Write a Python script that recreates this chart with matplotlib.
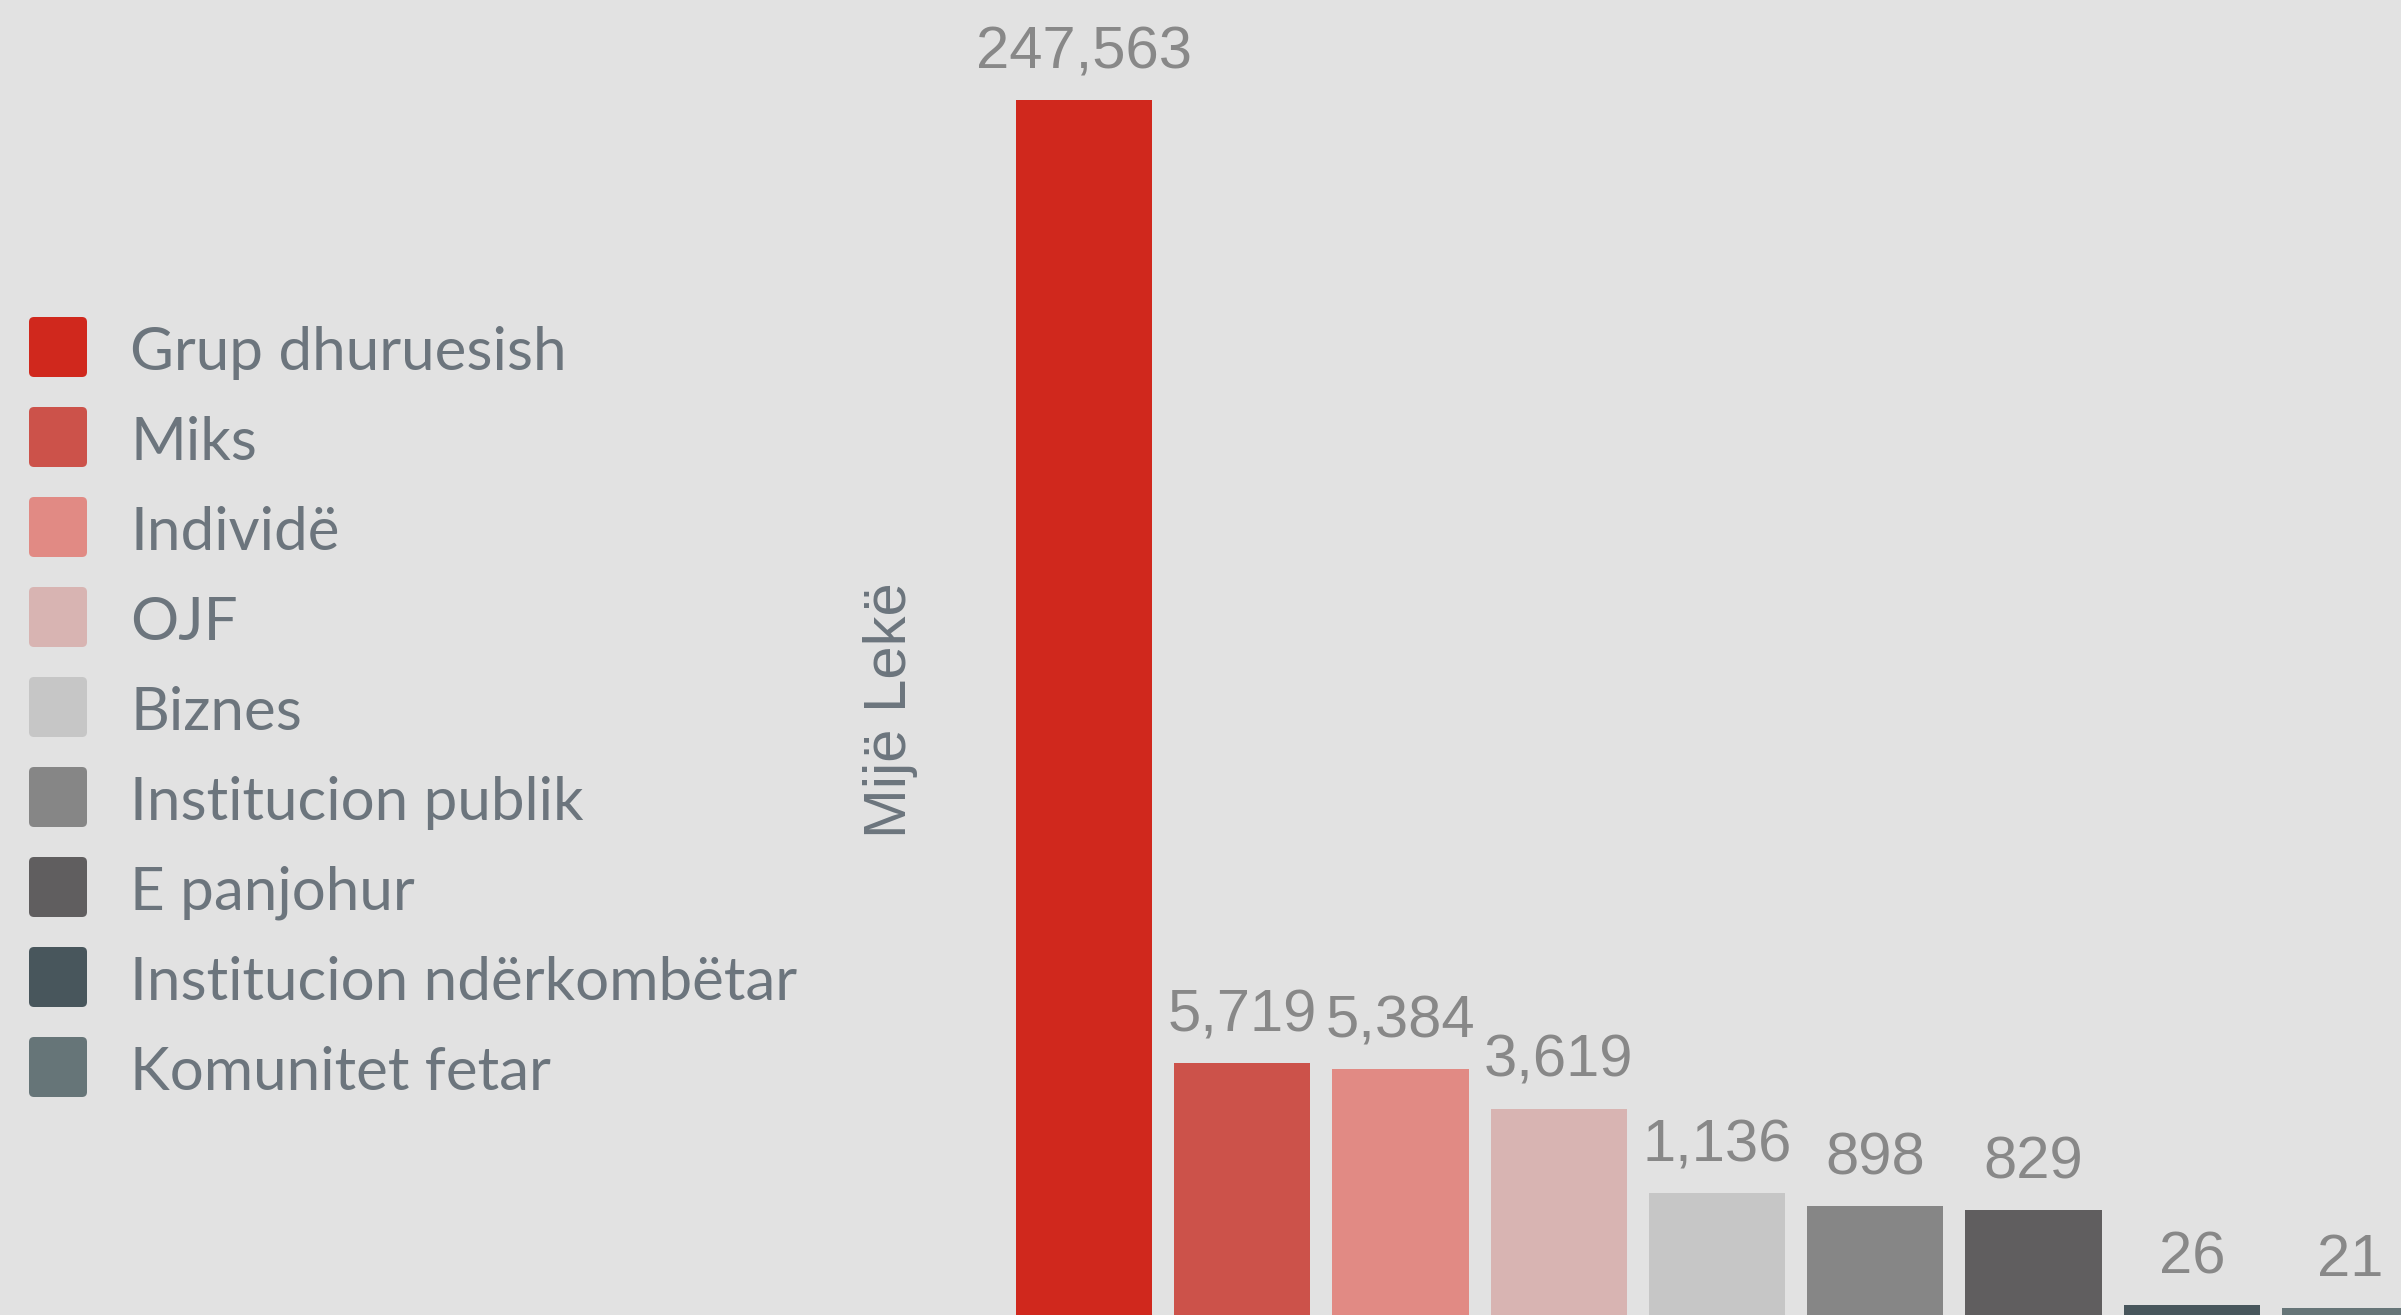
import numpy as np
import matplotlib.pyplot as plt
from matplotlib.patches import FancyBboxPatch

categories = ['Grup dhuruesish', 'Miks', 'Individë', 'OJF', 'Biznes',
              'Institucion publik', 'E panjohur', 'Institucion ndërkombëtar',
              'Komunitet fetar']
values = [247563, 5719, 5384, 3619, 1136, 898, 829, 26, 21]
colors = ['#d0281d', '#cc524a', '#e18a84', '#d8b4b2', '#c6c6c6',
          '#868686', '#605e5f', '#48565c', '#667578']
y_label = 'Mijë Lekë'

W, H = 2401, 1315
bg = '#e2e2e2'
text_col = '#6c757d'
num_col = '#888888'

fig = plt.figure(figsize=(W / 100, H / 100), dpi=100, facecolor=bg)

# compressed value axis (power scale) so the small groups stay visible
p = 0.4
fwd = lambda v: np.power(np.clip(v, 0, None), p)
inv = lambda t: np.power(np.clip(t, 0, None), 1 / p)

bottom_px = -22          # axis baseline sits just under the picture edge
top_px = 100             # top of the tallest bar, from the top edge
step = 158.25            # px between bar centres
first = 1084             # centre of the first bar
left_px = first - 0.5 * step

ax = fig.add_axes([left_px / W, bottom_px / H, (W - left_px) / W, (H - bottom_px) / H])
ax.set_yscale('function', functions=(fwd, inv))
frac = (H - top_px - bottom_px) / (H - bottom_px)
ax.set_ylim(0, float(inv(fwd(max(values)) / frac)))
ax.set_xlim(-0.5, (W - first) / step)

x = np.arange(len(values))
ax.bar(x, values, width=0.86, color=colors)
for xi, v in zip(x, values):
    ax.annotate(f'{v:,}', (xi, v), xytext=(0, 23), textcoords='offset points',
                ha='center', va='baseline', fontsize=43, color=num_col,
                family='Liberation Sans')

ax.set_facecolor('none')
for s in ax.spines.values():
    s.set_visible(False)
ax.set_xticks([])
ax.set_yticks([])

# legend, drawn by hand
for i, (cat, c) in enumerate(zip(categories, colors)):
    top = 317 + 90 * i
    box = FancyBboxPatch((29 / 100, (H - top - 60) / 100), 58 / 100, 60 / 100,
                         boxstyle='round,pad=0,rounding_size=0.05',
                         transform=fig.dpi_scale_trans, facecolor=c,
                         edgecolor='none')
    fig.add_artist(box)
    fig.text(130 / W, 1 - (top + 53) / H, cat, fontsize=43.3, color=text_col,
             family='Lato', ha='left', va='baseline')

fig.text(891 / W, 1 - 710 / H, y_label, rotation=90, fontsize=43,
         color=text_col, family='Liberation Sans', ha='center', va='center')

fig.savefig('out.png', dpi=100, facecolor=bg)
